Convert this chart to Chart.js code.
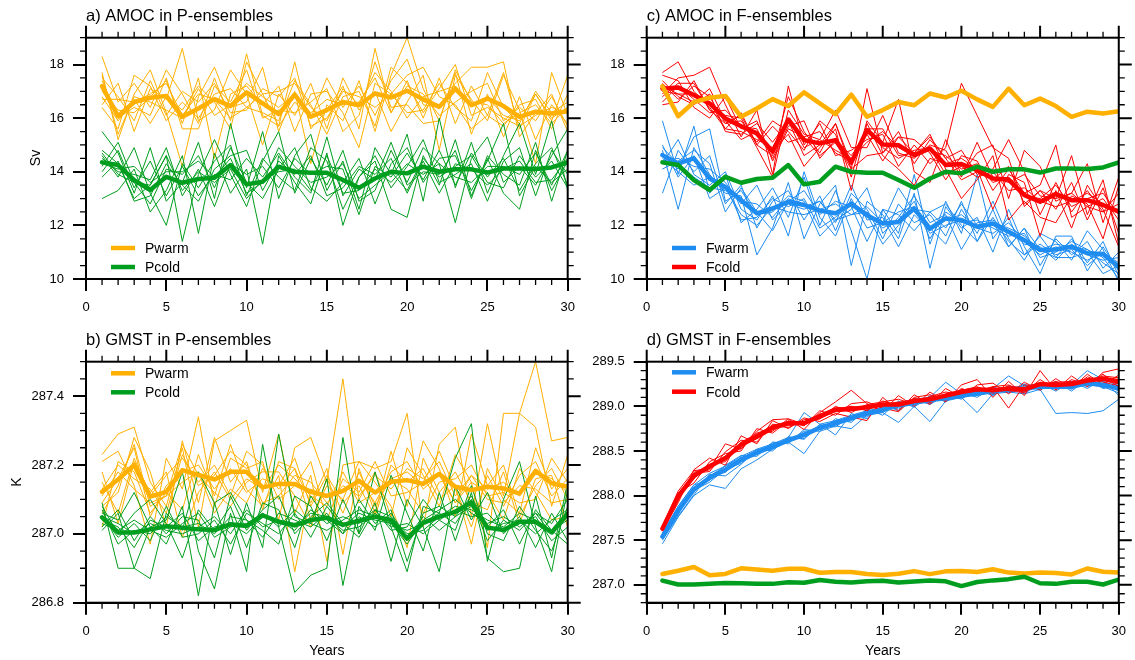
<!DOCTYPE html>
<html><head><meta charset="utf-8">
<script src="https://cdn.jsdelivr.net/npm/chart.js@4.4.0/dist/chart.umd.min.js"></script>
<style>html,body{margin:0;padding:0;background:#fff;width:1135px;height:660px;overflow:hidden}canvas{position:absolute}</style>
</head><body>
<canvas id="ca" width="600" height="330" style="left:0px;top:0px"></canvas>
<canvas id="cc" width="575" height="330" style="left:560px;top:0px"></canvas>
<canvas id="cb" width="600" height="330" style="left:0px;top:330px"></canvas>
<canvas id="cd" width="575" height="330" style="left:560px;top:330px"></canvas>
<script>
const YEARS = [1,2,3,4,5,6,7,8,9,10,11,12,13,14,15,16,17,18,19,20,21,22,23,24,25,26,27,28,29,30];
const X_TICKS = [0,5,10,15,20,25,30];
const AMOC_Y_TICKS = [10,12,14,16,18];
const GMST_P_Y_TICKS = [286.8,287.0,287.2,287.4];
const GMST_F_Y_TICKS = [287.0,287.5,288.0,288.5,289.0,289.5];

// ---- AMOC (Sv) ----
const PWARM_AMOC_MEAN = [17.19,16.07,16.6,16.76,16.83,16.05,16.36,16.71,16.45,16.96,16.55,16.15,16.88,16.05,16.3,16.6,16.48,16.92,16.77,17.02,16.7,16.42,17.1,16.48,16.73,16.45,16.05,16.24,16.17,16.26];
const PCOLD_AMOC_MEAN = [14.35,14.25,13.69,13.32,13.81,13.59,13.73,13.78,14.25,13.53,13.63,14.19,14.0,13.96,13.96,13.69,13.4,13.75,14.0,13.94,14.19,14.0,14.09,14.09,13.97,14.12,14.12,14.1,14.16,14.35];
const FWARM_AMOC_MEAN = [14.62,14.31,14.5,13.75,13.42,12.94,12.45,12.63,12.88,12.76,12.55,12.45,12.8,12.38,12.07,12.13,12.63,11.88,12.26,12.2,11.95,12.07,11.76,11.45,11.08,11.1,11.2,10.96,10.93,10.45];
const FCOLD_AMOC_MEAN = [17.1,17.14,16.86,16.55,15.99,15.7,15.43,14.75,15.95,15.18,15.06,15.18,14.34,15.55,15.02,14.99,14.62,14.87,14.25,14.29,14.06,13.75,13.71,13.13,12.88,13.17,12.94,12.94,12.76,12.51];

const PWARM_AMOC_MEMBERS = [
[18.3,16.6,17.3,16.4,17.8,16.9,15.8,17.5,15.9,18.4,16.1,15.7,18.1,15.6,16.3,17.2,15.6,18.6,16.2,17.4,16.0,17.5,15.8,17.2,16.1,17.7,15.6,16.9,15.9,17.6],
[17.7,15.2,16.9,17.8,16.2,14.2,16.8,17.9,16.4,16.6,17.9,15.5,17.0,14.3,16.5,15.9,17.4,15.5,17.6,19.0,17.1,15.9,17.7,15.4,16.9,15.3,16.8,15.2,16.5,15.8],
[16.5,17.3,15.5,17.1,16.7,18.6,15.9,16.3,17.8,16.9,15.0,16.9,16.1,17.3,15.6,17.5,16.3,17.0,15.5,16.6,17.6,14.8,17.6,16.7,15.9,17.6,16.3,14.3,17.7,16.1],
[17.0,16.3,16.2,16.8,17.4,15.8,17.5,14.5,16.9,17.2,16.5,17.2,15.5,16.9,17.0,16.2,14.9,17.3,16.9,16.2,16.3,17.3,16.4,15.9,17.7,16.4,15.8,17.0,16.2,16.6],
[16.8,15.9,16.7,15.8,16.8,16.3,17.2,16.6,15.6,18.1,16.9,15.7,16.6,16.0,17.5,16.4,17.2,16.1,17.4,18.2,16.5,16.4,17.3,17.9,17.9,18.1,15.3,16.2,16.9,15.5],
[17.5,16.8,15.9,17.4,16.1,17.0,16.6,17.3,16.2,16.3,17.1,16.8,17.5,15.7,16.0,17.0,16.8,16.4,16.9,17.6,17.9,16.8,16.5,15.6,16.1,15.7,16.5,16.7,15.6,16.9],
[16.4,15.6,17.6,17.2,15.9,16.6,16.0,16.9,17.1,16.4,16.2,15.9,17.4,16.5,15.4,16.8,17.0,15.7,17.9,17.3,16.2,17.1,18.0,16.1,16.4,16.0,15.7,16.1,16.4,16.2],
[17.4,16.0,16.4,16.1,17.5,15.6,15.6,17.2,16.6,17.8,16.0,16.3,16.2,16.6,17.1,15.5,16.1,18.1,16.4,16.5,15.8,15.9,17.8,16.6,16.5,15.8,16.2,16.5,15.8,16.4],
[17.6,15.4,16.8,16.6,16.3,16.0,17.1,16.1,16.5,17.3,16.8,16.4,16.9,16.2,16.7,16.5,16.6,17.5,16.2,17.2,16.9,16.1,16.6,17.0,17.3,15.9,16.4,15.9,16.8,15.7],
[16.7,16.7,16.6,16.9,17.3,16.1,16.9,16.7,16.0,16.4,16.9,17.0,17.3,16.4,15.9,17.1,16.5,17.7,17.0,16.0,16.8,17.0,17.2,16.5,16.8,16.1,15.9,16.9,16.0,16.4]
];
const PCOLD_AMOC_MEMBERS = [
[15.5,14.7,13.2,14.9,12.9,13.6,15.1,13.0,15.8,13.4,15.5,13.0,14.6,15.4,13.3,14.4,12.6,14.9,13.9,15.4,12.9,16.0,13.4,15.1,13.2,14.6,15.8,13.9,15.9,13.3],
[13.0,13.3,14.1,12.5,13.3,14.6,11.7,14.7,13.2,14.1,11.3,14.6,13.6,12.8,14.7,12.0,13.8,14.4,12.6,12.3,14.6,13.5,15.2,13.1,14.5,13.2,12.6,14.8,13.3,14.4],
[14.8,14.3,13.0,13.5,14.6,11.4,13.9,15.2,13.9,12.7,14.4,15.5,13.2,14.5,13.5,14.8,12.9,13.3,14.8,13.6,14.9,14.3,12.1,14.5,15.3,13.6,14.2,13.5,14.6,15.6],
[14.2,15.1,13.6,12.8,14.1,13.9,14.6,13.4,14.9,13.6,13.0,14.1,14.9,13.4,12.9,13.6,14.5,12.8,14.3,14.9,13.6,14.5,14.6,13.3,14.4,15.8,13.1,14.2,13.6,14.1],
[14.6,13.8,14.9,13.2,12.0,14.3,13.4,14.4,15.0,13.1,14.5,13.8,13.3,14.9,14.4,12.6,13.8,14.6,13.4,14.2,15.2,13.6,13.9,14.3,12.9,14.4,14.9,13.1,14.8,13.9],
[14.0,14.8,13.4,14.4,13.1,14.2,13.1,13.9,13.7,14.5,13.8,14.7,13.8,13.2,15.3,13.1,14.1,13.7,15.1,13.5,14.0,13.9,14.8,13.0,14.6,13.9,13.5,15.1,12.9,14.8],
[14.5,14.0,13.9,13.7,14.9,13.1,14.1,12.7,14.3,13.9,14.2,13.4,14.5,13.9,14.2,14.1,12.4,14.2,13.8,14.7,13.7,14.8,13.5,14.7,13.8,14.5,13.3,14.3,14.9,13.5],
[13.8,14.4,12.9,13.1,14.3,13.5,12.9,14.1,14.6,14.8,13.3,14.4,13.9,14.6,13.1,13.4,14.2,13.9,14.5,13.2,14.4,13.2,14.3,14.1,13.5,14.1,14.4,13.6,13.7,14.5],
[14.3,14.1,14.2,13.6,14.0,14.0,14.4,13.8,14.5,13.2,13.6,14.9,14.2,13.6,13.8,14.3,13.0,13.5,14.0,13.3,14.5,13.8,14.2,14.6,13.6,13.4,14.6,13.8,14.4,13.4],
[14.7,13.9,13.6,13.5,14.6,13.3,14.0,13.6,14.1,13.0,13.7,14.0,14.1,13.3,14.6,13.2,13.3,14.1,13.6,14.3,13.9,14.3,13.8,13.6,14.2,14.2,13.9,14.7,13.5,14.8]
];
const FCOLD_AMOC_MEMBERS = [
[17.7,18.1,17.0,16.4,15.6,16.2,15.0,14.6,16.8,15.5,14.7,15.8,14.1,17.1,14.7,15.5,14.3,15.2,14.5,14.8,13.9,14.1,15.2,14.0,12.4,13.6,12.5,13.3,12.5,12.8],
[16.9,17.5,17.6,17.9,16.5,15.3,16.3,13.9,17.2,15.0,15.8,14.6,14.8,15.2,15.4,14.2,15.0,14.3,14.9,17.3,16.1,14.9,14.5,12.7,13.3,12.6,13.6,12.2,13.4,11.7],
[17.3,16.7,17.2,16.8,15.8,15.9,15.1,15.9,15.5,14.8,15.9,15.4,13.8,15.9,15.1,16.7,14.0,13.6,15.2,13.9,14.7,15.0,13.0,14.8,14.2,12.9,13.2,14.3,12.1,13.8],
[16.6,17.2,16.7,16.2,16.3,15.7,15.6,14.5,15.7,15.9,14.5,15.2,14.6,15.4,14.4,15.3,15.2,14.7,13.7,14.6,14.4,13.3,14.1,13.2,13.5,15.0,12.3,12.7,13.0,12.2],
[17.4,16.8,16.5,16.9,15.5,15.4,15.8,15.1,15.9,14.6,15.0,15.8,14.3,15.6,15.6,14.6,14.7,15.4,14.1,13.0,13.7,14.6,12.2,12.9,12.3,12.1,13.1,12.8,11.5,13.5],
[16.8,17.3,17.3,16.3,16.1,16.0,14.9,13.8,16.3,15.4,15.2,16.3,14.9,14.9,16.1,14.7,14.5,15.0,14.8,13.8,15.1,13.8,13.6,13.9,13.1,13.0,14.6,12.4,13.7,11.3],
[17.0,16.9,16.6,17.1,15.9,15.2,15.5,14.8,15.4,14.2,14.9,15.6,13.3,15.8,14.6,14.1,13.5,14.5,14.3,14.5,14.1,12.6,13.9,13.6,11.6,13.3,11.9,13.5,12.6,11.2],
[17.6,17.4,16.4,16.0,16.8,15.6,15.9,14.4,15.6,15.3,15.5,14.7,14.4,15.5,14.9,14.5,14.8,14.9,13.9,14.2,13.8,14.0,13.3,13.4,12.9,12.7,12.9,13.2,12.8,12.5],
[17.2,16.9,16.9,16.6,15.6,15.5,15.2,14.9,16.0,14.9,15.2,14.8,14.5,15.1,15.5,14.9,14.6,14.8,14.6,14.1,14.3,13.6,13.8,13.1,13.0,13.5,12.7,13.0,13.2,12.4],
[16.5,16.6,17.4,16.3,15.8,16.1,15.0,15.7,15.1,15.3,14.6,15.1,14.1,14.6,14.7,15.3,14.7,15.3,14.5,13.7,14.0,13.7,14.2,12.8,13.3,13.0,13.2,12.7,12.5,13.2]
];
const FWARM_AMOC_MEMBERS = [
[15.9,13.9,15.7,13.2,13.9,12.1,12.6,13.4,12.3,13.8,12.0,13.3,11.8,10.0,12.6,11.7,13.9,11.3,12.9,11.7,13.9,11.5,12.3,10.9,11.6,10.8,11.5,10.6,11.4,10.1],
[13.2,14.8,14.0,14.6,12.8,13.5,11.9,12.9,13.3,12.2,13.1,11.8,13.2,12.6,11.5,12.8,12.1,12.4,11.6,12.9,11.4,12.6,11.2,11.9,10.5,11.5,10.9,11.4,10.4,11.0],
[14.8,12.6,14.9,13.9,13.2,13.1,10.9,11.9,13.6,11.5,12.8,13.5,10.5,12.9,12.4,11.5,13.2,10.4,12.7,11.9,12.3,11.0,12.6,11.2,10.2,11.6,11.6,10.3,11.2,10.3],
[14.3,15.2,13.9,13.5,14.0,12.6,12.2,13.1,11.6,14.0,12.3,11.6,13.0,11.9,12.1,13.4,12.5,11.9,11.3,12.6,11.7,12.9,11.5,10.7,11.7,11.4,10.7,11.8,11.1,9.9],
[14.6,14.1,15.3,15.6,12.9,13.3,12.4,12.5,13.1,12.9,11.6,12.2,12.6,13.4,11.7,12.3,13.1,12.1,12.4,11.1,12.1,12.2,11.8,11.3,11.2,10.7,11.3,10.9,10.7,10.8],
[14.4,14.5,14.2,14.1,13.6,12.8,13.5,12.2,12.8,12.6,12.9,12.1,13.5,12.2,12.3,11.2,12.4,11.8,12.2,12.4,11.9,11.7,12.1,11.4,10.9,11.2,11.0,10.7,11.0,10.4],
[15.0,13.8,14.6,13.0,13.4,12.4,12.0,12.7,12.5,12.4,12.6,12.8,12.4,12.5,11.9,12.2,12.9,11.5,12.5,12.1,12.2,11.9,11.6,11.7,10.8,11.0,11.4,11.1,10.6,10.2],
[14.1,14.4,14.8,14.3,12.5,13.4,12.5,11.8,12.9,13.3,12.4,12.9,12.7,11.4,12.6,12.4,11.8,12.5,11.9,12.8,12.0,12.1,11.2,11.9,11.1,10.8,10.8,11.0,10.2,10.5],
[14.5,14.0,13.5,13.8,13.5,12.2,12.3,13.0,12.7,13.0,11.9,12.3,12.9,12.4,11.3,12.0,12.6,12.5,12.8,12.0,11.4,12.3,11.4,10.9,11.3,10.9,11.1,10.5,11.0,10.6],
[14.9,14.3,13.8,13.4,13.3,12.9,12.8,12.3,13.0,12.7,12.9,12.2,12.4,12.7,12.1,12.5,12.7,11.7,12.0,12.2,11.9,12.1,11.9,11.6,11.1,11.3,11.2,11.1,10.8,10.0]
];

// ---- GMST (K) ----
const PWARM_GMST_MEAN = [287.122,287.158,287.2,287.108,287.122,287.185,287.171,287.158,287.18,287.18,287.135,287.145,287.145,287.122,287.11,287.125,287.154,287.12,287.151,287.156,287.145,287.174,287.137,287.127,287.137,287.132,287.117,287.183,287.147,287.137];
const PCOLD_GMST_MEAN = [287.048,287.004,287.004,287.013,287.022,287.018,287.013,287.011,287.028,287.023,287.054,287.035,287.025,287.04,287.047,287.026,287.038,287.05,287.04,286.986,287.032,287.05,287.064,287.091,287.018,287.011,287.035,287.035,287.004,287.059];
const FWARM_GMST_MEAN = [287.54,287.83,288.07,288.2,288.29,288.4,288.48,288.55,288.62,288.68,288.76,288.81,288.87,288.92,288.96,289.01,289.04,289.07,289.09,289.12,289.14,289.17,289.19,289.2,289.22,289.22,289.22,289.26,289.24,289.2];
const FCOLD_GMST_MEAN = [287.63,287.99,288.22,288.33,288.42,288.57,288.66,288.76,288.81,288.81,288.89,288.96,288.97,288.99,289.02,289.02,289.06,289.08,289.12,289.16,289.19,289.18,289.2,289.19,289.25,289.24,289.25,289.29,289.31,289.28];

const PWARM_GMST_MEMBERS = [
[287.23,287.29,287.31,287.15,287.08,287.25,287.02,287.27,287.30,287.33,287.12,287.29,287.06,287.17,286.92,287.20,287.21,287.19,287.21,287.35,287.02,287.26,287.31,287.05,287.32,287.11,287.35,287.50,287.27,287.28],
[287.21,287.24,287.14,286.97,287.22,287.13,287.34,287.08,287.22,287.19,287.21,287.04,287.25,287.28,287.15,287.45,287.10,287.18,287.05,287.25,287.17,287.08,287.23,287.15,286.96,287.35,287.35,287.31,287.08,287.23],
[287.08,287.12,287.28,287.18,287.02,287.27,287.09,287.28,287.15,287.21,287.07,287.21,287.19,287.09,287.19,286.94,287.19,287.06,287.24,287.08,287.27,287.19,287.05,287.29,287.14,287.20,287.05,287.14,287.19,287.10],
[287.15,287.06,287.22,287.11,287.17,287.22,287.15,287.20,287.11,287.24,287.20,287.10,287.14,287.21,287.04,287.16,287.12,287.21,287.11,287.12,287.15,287.24,287.13,287.02,287.17,287.08,287.17,287.21,287.11,287.16],
[287.02,287.21,287.18,287.06,287.12,287.07,287.23,287.11,287.26,287.13,287.08,287.17,286.89,287.13,287.11,287.12,287.16,287.09,287.18,287.21,287.13,287.17,287.09,287.15,287.12,287.04,287.19,287.12,287.04,287.05],
[287.11,287.18,287.13,287.09,287.11,287.15,287.18,287.06,287.13,287.09,287.19,287.13,287.19,287.04,287.14,287.10,287.21,287.15,287.08,286.96,287.22,287.12,287.18,287.09,287.07,287.18,287.03,287.16,287.17,287.02],
[287.18,287.03,287.21,287.12,287.18,286.99,287.12,287.18,287.10,287.16,287.13,287.20,287.16,287.11,287.08,287.18,287.09,287.12,287.16,287.13,287.06,287.15,287.16,287.20,287.11,287.12,287.09,287.10,287.22,287.15],
[287.09,287.16,287.25,287.05,287.14,287.18,287.20,287.13,287.19,287.12,287.16,287.14,287.22,287.08,287.17,287.09,287.14,287.05,287.20,287.15,287.19,287.10,287.14,286.97,287.19,287.10,287.06,287.25,287.13,287.19],
[287.13,287.20,287.16,287.13,287.06,287.23,287.14,287.17,287.24,287.20,287.09,287.11,287.17,287.15,287.09,287.14,287.11,287.17,287.13,287.19,287.16,287.21,287.11,287.17,287.13,287.15,287.11,287.18,287.16,287.12],
[287.06,287.14,287.26,287.08,287.11,287.26,287.17,287.12,287.08,287.15,287.18,287.18,287.11,287.02,287.16,287.06,287.18,287.08,287.16,287.18,287.14,287.18,287.09,287.17,287.10,287.09,287.14,287.13,287.09,287.10]
];
const PCOLD_GMST_MEMBERS = [
[287.09,286.90,286.90,287.02,287.04,287.18,286.95,286.84,287.06,286.89,287.26,287.02,286.83,286.88,286.90,287.28,287.00,287.18,287.02,286.89,287.08,287.06,287.22,287.32,286.92,287.10,287.21,287.02,286.89,287.13],
[287.01,287.06,286.90,286.87,287.06,287.01,287.18,287.09,286.94,287.09,286.96,287.29,287.05,287.03,287.16,286.85,287.08,287.01,287.17,287.06,286.95,287.12,286.98,287.12,286.93,286.89,286.90,287.11,286.93,287.15],
[287.06,287.04,287.12,287.02,286.97,287.08,286.82,287.09,287.12,287.04,287.01,286.97,287.11,287.08,286.98,287.10,287.00,287.09,286.92,287.10,287.02,286.89,287.14,287.04,287.12,287.00,287.05,286.96,287.06,286.98],
[287.08,287.00,287.06,287.10,287.03,286.93,287.07,287.01,287.08,286.96,287.09,287.07,286.96,287.11,287.04,287.00,287.10,287.03,287.07,286.92,287.06,287.08,287.05,287.11,287.02,287.07,286.97,287.07,287.01,287.04],
[287.02,287.07,286.98,287.05,287.00,287.05,287.04,286.93,287.11,287.01,287.07,287.11,287.00,287.05,287.09,287.03,286.99,287.07,287.01,287.02,287.10,287.04,287.01,287.14,287.00,286.98,287.08,287.01,286.95,287.08],
[287.05,286.99,287.03,286.98,287.08,286.99,287.00,287.04,286.97,287.06,287.03,287.00,287.06,286.99,287.08,287.02,287.06,287.04,287.03,286.97,287.04,287.07,287.10,287.06,287.03,287.05,287.02,287.06,287.03,287.10],
[287.04,287.02,286.96,287.04,287.02,287.06,286.98,287.02,287.03,287.00,287.05,287.04,287.01,287.07,287.03,287.05,287.03,287.07,287.05,287.00,287.01,287.05,287.08,287.07,287.04,287.02,287.06,287.04,287.01,286.97],
[287.07,286.97,287.01,287.00,287.05,287.02,287.03,287.00,287.05,287.04,286.99,287.06,287.04,287.02,287.06,287.00,287.05,287.02,287.06,286.99,287.05,287.01,287.05,287.08,287.01,287.03,287.04,287.00,287.04,287.07],
[287.03,287.01,287.04,287.01,286.99,287.03,287.06,286.99,287.02,287.03,287.06,287.02,287.07,287.03,287.01,287.04,287.07,287.05,287.03,287.01,287.03,287.06,287.03,287.10,286.98,287.04,287.01,287.06,287.00,287.05],
[287.05,287.03,287.00,287.03,287.01,287.00,287.02,287.05,287.00,287.07,287.02,287.04,287.02,287.06,287.05,287.01,287.02,287.06,287.02,287.03,287.00,287.04,287.07,287.05,287.06,287.01,287.03,287.05,286.98,287.02]
];
const FCOLD_GMST_MEMBERS = [
[287.66,288.05,288.28,288.30,288.58,288.52,288.72,288.85,288.86,288.74,288.93,289.05,289.18,289.03,288.94,289.12,289.00,289.16,289.05,289.24,289.30,289.10,289.28,289.12,289.40,289.18,289.34,289.22,289.38,289.42],
[287.60,287.92,288.29,288.42,288.34,288.67,288.58,288.84,288.75,288.87,288.83,288.92,288.88,288.84,289.10,288.95,289.13,289.02,289.20,289.10,289.24,289.26,289.14,289.27,289.18,289.31,289.20,289.36,289.24,289.35],
[287.64,288.03,288.14,288.38,288.47,288.50,288.75,288.70,288.84,288.78,288.95,288.90,289.03,289.05,288.98,288.94,289.10,289.13,289.06,289.20,289.14,289.22,289.24,289.15,289.30,289.19,289.30,289.24,289.36,289.21],
[287.62,287.95,288.25,288.27,288.49,288.62,288.60,288.80,288.78,288.83,288.86,289.00,288.93,289.02,289.05,289.08,289.02,289.11,289.16,289.13,289.17,289.22,288.98,289.24,289.22,289.28,289.20,289.33,289.27,289.23],
[287.65,288.01,288.19,288.35,288.38,288.60,288.69,288.72,288.86,288.80,288.91,288.97,289.00,288.95,289.06,289.00,289.09,289.04,289.14,289.18,289.22,289.14,289.23,289.20,289.22,289.27,289.28,289.26,289.34,289.32],
[287.61,287.97,288.24,288.29,288.44,288.53,288.68,288.79,288.76,288.85,288.86,288.95,289.00,288.97,289.01,289.05,289.03,289.10,289.09,289.19,289.18,289.21,289.17,289.16,289.27,289.22,289.24,289.31,289.29,289.25],
[287.63,288.00,288.22,288.34,288.40,288.57,288.64,288.78,288.83,288.81,288.90,288.96,288.95,288.98,289.03,289.01,289.07,289.07,289.12,289.17,289.17,289.18,289.21,289.20,289.24,289.24,289.26,289.28,289.32,289.29],
[287.64,287.98,288.26,288.33,288.43,288.58,288.70,288.76,288.80,288.82,288.90,288.99,288.97,289.01,289.02,289.03,289.05,289.09,289.11,289.15,289.20,289.17,289.19,289.21,289.26,289.25,289.24,289.30,289.30,289.28]
];
const FWARM_GMST_MEMBERS = [
[287.46,287.76,288.00,288.12,288.08,288.30,288.40,288.52,288.60,288.47,288.72,288.78,288.75,288.90,288.93,288.82,289.00,288.83,289.06,289.10,288.93,289.14,289.16,289.14,289.19,288.92,288.93,288.92,288.95,289.08],
[287.58,287.88,288.12,288.25,288.33,288.44,288.52,288.58,288.65,288.93,288.80,288.84,288.90,288.95,288.99,289.04,289.08,289.10,289.27,289.14,289.16,289.20,289.34,289.23,289.25,289.26,289.24,289.40,289.30,289.23],
[287.50,287.77,288.01,288.24,288.22,288.35,288.52,288.50,288.66,288.63,288.80,288.68,288.92,288.86,289.02,288.95,289.09,289.02,289.13,289.08,289.19,289.12,289.23,289.14,289.26,289.17,289.28,289.20,289.30,289.12],
[287.57,287.88,288.12,288.17,288.34,288.45,288.44,288.60,288.58,288.74,288.72,288.86,288.82,288.97,288.90,289.06,288.99,289.12,289.05,289.16,289.10,289.22,289.15,289.25,289.18,289.28,289.17,289.31,289.21,289.26],
[287.53,287.80,288.06,288.15,288.30,288.36,288.50,288.53,288.65,288.64,288.78,288.77,288.89,288.88,289.00,288.97,289.06,289.03,289.12,289.09,289.17,289.13,289.22,289.16,289.26,289.19,289.28,289.22,289.28,289.17],
[287.55,287.86,288.04,288.23,288.26,288.43,288.46,288.59,288.60,288.72,288.74,288.84,288.85,288.95,288.93,289.04,289.01,289.10,289.07,289.15,289.12,289.20,289.16,289.24,289.19,289.27,289.19,289.30,289.20,289.23],
[287.51,287.79,288.09,288.19,288.31,288.38,288.49,288.52,288.63,288.66,288.79,288.80,288.84,288.93,288.97,289.00,289.05,289.05,289.10,289.11,289.16,289.15,289.21,289.17,289.24,289.20,289.23,289.24,289.22,289.15],
[287.56,287.84,288.08,288.22,288.33,288.42,288.51,288.57,288.61,288.70,288.76,288.83,288.87,288.91,288.98,289.02,289.04,289.08,289.10,289.13,289.14,289.18,289.19,289.21,289.22,289.23,289.24,289.27,289.25,289.20]
];

const ORANGE = '#FFB000', GREEN = '#009E1E', BLUE = '#1E8CF0', RED = '#FF0000';
const FONT = '"Liberation Sans", Arial, Helvetica, sans-serif';
Chart.defaults.font.family = FONT;
Chart.defaults.color = '#000';

function xy(vals) { return vals.map((v, i) => ({ x: YEARS[i], y: v })); }
function thin(members, color, order) {
  return members.map(m => ({ data: xy(m), borderColor: color, borderWidth: 1, pointRadius: 0, order: order, fill: false }));
}
function thick(vals, color, order) {
  return { data: xy(vals), borderColor: color, borderWidth: 4.5, pointRadius: 0, order: order, fill: false, borderJoinStyle: 'round', borderCapStyle: 'round' };
}
function steps(lo, hi, st, majors) {
  const out = [];
  const n = Math.round((hi - lo) / st);
  for (let i = 0; i <= n; i++) {
    const v = +(lo + i * st).toFixed(4);
    if (!majors.some(m => Math.abs(m - v) < 1e-6)) out.push(v);
  }
  return out;
}

function makePanel(id, p) {
  const deco = {
    id: 'deco',
    afterDraw(chart) {
      const ctx = chart.ctx, a = chart.chartArea, sx = chart.scales.x, sy = chart.scales.y;
      ctx.save();
      ctx.strokeStyle = '#000';
      ctx.lineWidth = 1.3;
      ctx.beginPath();
      for (let v = 0; v <= 30; v++) {
        if (v % 5 === 0) continue;
        const px = sx.getPixelForValue(v);
        ctx.moveTo(px, a.bottom); ctx.lineTo(px, a.bottom + 6);
        ctx.moveTo(px, a.top); ctx.lineTo(px, a.top - 6);
      }
      p.minorY.forEach(v => {
        const py = sy.getPixelForValue(v);
        ctx.moveTo(a.left, py); ctx.lineTo(a.left - 6, py);
        ctx.moveTo(a.right, py); ctx.lineTo(a.right + 6, py);
      });
      ctx.stroke();
      ctx.lineWidth = 2;
      ctx.beginPath();
      X_TICKS.forEach(v => { const px = sx.getPixelForValue(v); ctx.moveTo(px, a.top); ctx.lineTo(px, a.top - 12); });
      p.yTicks.forEach(v => { const py = sy.getPixelForValue(v); ctx.moveTo(a.right, py); ctx.lineTo(a.right + 13, py); });
      ctx.stroke();
      ctx.strokeRect(a.left, a.top, a.right - a.left, a.bottom - a.top);
      // panel title
      ctx.fillStyle = '#000';
      ctx.font = '16.5px ' + FONT;
      ctx.textAlign = 'left'; ctx.textBaseline = 'alphabetic';
      ctx.fillText(p.title, a.left, p.titleY);
      // legend
      ctx.font = '14px ' + FONT;
      ctx.textBaseline = 'middle';
      p.legend.forEach((it, i) => {
        ctx.strokeStyle = it.color; ctx.lineWidth = 4.5; ctx.lineCap = 'butt';
        ctx.beginPath(); ctx.moveTo(p.legX0, p.legY[i]); ctx.lineTo(p.legX1, p.legY[i]); ctx.stroke();
        ctx.fillStyle = '#000';
        ctx.fillText(it.label, p.legTx, p.legY[i] + 1);
      });
      // axis titles
      if (p.yTitle) {
        ctx.save();
        ctx.translate(p.yTitle.x, p.yTitle.y);
        ctx.rotate(-Math.PI / 2);
        ctx.textAlign = 'center'; ctx.textBaseline = 'middle';
        ctx.font = '14px ' + FONT;
        ctx.fillText(p.yTitle.text, 0, 0);
        ctx.restore();
      }
      if (p.xTitleY) {
        ctx.textAlign = 'center'; ctx.textBaseline = 'middle';
        ctx.font = '14px ' + FONT;
        ctx.fillText('Years', (a.left + a.right) / 2, p.xTitleY);
      }
      ctx.restore();
    }
  };
  return new Chart(document.getElementById(id), {
    type: 'line',
    data: { datasets: p.datasets },
    options: {
      responsive: false, animation: false, devicePixelRatio: 1,
      layout: { padding: { left: 0, top: p.padTop, right: p.padRight, bottom: 0 } },
      plugins: { legend: { display: false }, tooltip: { enabled: false }, title: { display: false } },
      elements: { line: { tension: 0 } },
      scales: {
        x: {
          type: 'linear', min: 0, max: 30,
          afterBuildTicks: s => { s.ticks = X_TICKS.map(v => ({ value: v })); },
          afterFit: s => { s.height = p.xH; },
          ticks: { font: { size: 13 }, color: '#000', padding: 9, maxRotation: 0, autoSkip: false, callback: v => String(v) },
          grid: { drawOnChartArea: false, drawTicks: true, tickLength: 12, color: '#000', lineWidth: 2 },
          border: { display: true, color: '#000', width: 2 }
        },
        y: {
          type: 'linear', min: p.yMin, max: p.yMax,
          afterBuildTicks: s => { s.ticks = p.yTicks.map(v => ({ value: v })); },
          afterFit: s => { s.width = p.yW; },
          ticks: { font: { size: 13 }, color: '#000', padding: 9, autoSkip: false, callback: p.fmt },
          grid: { drawOnChartArea: false, drawTicks: true, tickLength: 13, color: '#000', lineWidth: 2 },
          border: { display: true, color: '#000', width: 2 }
        }
      }
    },
    plugins: [deco]
  });
}

// a) AMOC in P-ensembles
makePanel('ca', {
  title: 'a) AMOC in P-ensembles', titleY: 21,
  padTop: 37.7, padRight: 32.3, yW: 86, xH: 51,
  yMin: 10, yMax: 19, yTicks: AMOC_Y_TICKS, minorY: steps(10, 19, 0.5, AMOC_Y_TICKS), fmt: v => String(v),
  yTitle: { text: 'Sv', x: 36, y: 158 },
  legend: [{ label: 'Pwarm', color: ORANGE }, { label: 'Pcold', color: GREEN }],
  legY: [248, 267], legX0: 111, legX1: 135, legTx: 145,
  datasets: [].concat(
    thin(PWARM_AMOC_MEMBERS, ORANGE, 6),
    thin(PCOLD_AMOC_MEMBERS, GREEN, 5),
    [thick(PWARM_AMOC_MEAN, ORANGE, 2), thick(PCOLD_AMOC_MEAN, GREEN, 1)]
  )
});

// c) AMOC in F-ensembles
makePanel('cc', {
  title: 'c) AMOC in F-ensembles', titleY: 21,
  padTop: 37.7, padRight: 7.7, yW: 86.7, xH: 51,
  yMin: 10, yMax: 19, yTicks: AMOC_Y_TICKS, minorY: steps(10, 19, 0.5, AMOC_Y_TICKS), fmt: v => String(v),
  yTitle: null,
  legend: [{ label: 'Fwarm', color: BLUE }, { label: 'Fcold', color: RED }],
  legY: [248, 267], legX0: 112, legX1: 136, legTx: 146,
  datasets: [].concat(
    thin(FWARM_AMOC_MEMBERS, BLUE, 8),
    thin(FCOLD_AMOC_MEMBERS, RED, 7),
    [thick(FWARM_AMOC_MEAN, BLUE, 4), thick(FCOLD_AMOC_MEAN, RED, 3),
     thick(PCOLD_AMOC_MEAN, GREEN, 2), thick(PWARM_AMOC_MEAN, ORANGE, 1)]
  )
});

// b) GMST in P-ensembles
makePanel('cb', {
  title: 'b) GMST in P-ensembles', titleY: 15,
  padTop: 31.7, padRight: 32.3, yW: 86, xH: 57.3,
  yMin: 286.8, yMax: 287.5, yTicks: GMST_P_Y_TICKS, minorY: steps(286.8, 287.5, 0.05, GMST_P_Y_TICKS), fmt: v => v.toFixed(1),
  yTitle: { text: 'K', x: 17, y: 152 },
  legend: [{ label: 'Pwarm', color: ORANGE }, { label: 'Pcold', color: GREEN }],
  legY: [43.3, 62.3], legX0: 111, legX1: 135, legTx: 145,
  xTitleY: 321,
  datasets: [].concat(
    thin(PWARM_GMST_MEMBERS, ORANGE, 6),
    thin(PCOLD_GMST_MEMBERS, GREEN, 5),
    [thick(PWARM_GMST_MEAN, ORANGE, 2), thick(PCOLD_GMST_MEAN, GREEN, 1)]
  )
});

// d) GMST in F-ensembles
makePanel('cd', {
  title: 'd) GMST in F-ensembles', titleY: 15,
  padTop: 31.7, padRight: 7.7, yW: 86.7, xH: 57.3,
  yMin: 286.8, yMax: 289.5, yTicks: GMST_F_Y_TICKS, minorY: steps(286.8, 289.5, 0.1, GMST_F_Y_TICKS), fmt: v => v.toFixed(1),
  yTitle: null,
  legend: [{ label: 'Fwarm', color: BLUE }, { label: 'Fcold', color: RED }],
  legY: [42.3, 61.7], legX0: 112, legX1: 136, legTx: 146,
  xTitleY: 321,
  datasets: [].concat(
    thin(FWARM_GMST_MEMBERS, BLUE, 8),
    thin(FCOLD_GMST_MEMBERS, RED, 7),
    [thick(FWARM_GMST_MEAN, BLUE, 4), thick(FCOLD_GMST_MEAN, RED, 3),
     thick(PWARM_GMST_MEAN, ORANGE, 2), thick(PCOLD_GMST_MEAN, GREEN, 1)]
  )
});
</script>
</body></html>
